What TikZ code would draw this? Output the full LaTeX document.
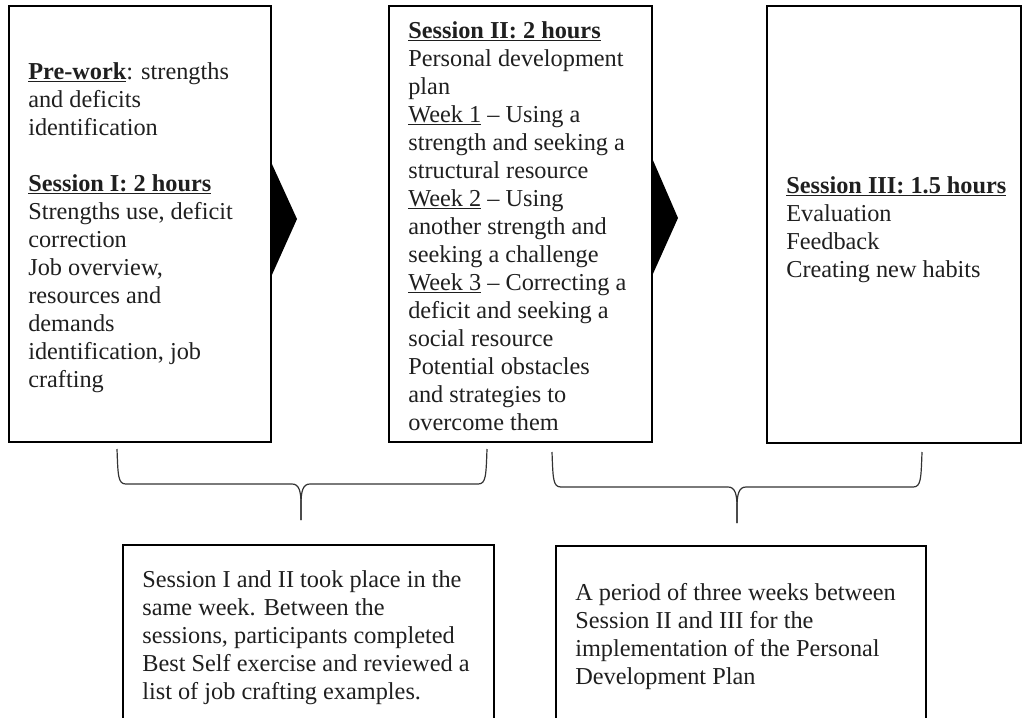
\documentclass[tikz,border=0pt]{standalone}
\usepackage{fontspec}
\setmainfont{Liberation Serif}
\begin{document}
\begin{tikzpicture}[x=1pt,y=-1pt,
  boxst/.style={draw=black,line width=1.8pt,rectangle,inner sep=0pt},
  txt/.style={anchor=west,align=left,inner sep=0pt,font=\fontsize{24.3}{28}\selectfont,text=black!88},
  bracest/.style={draw=black!80,line width=1.2pt},
  tri/.style={fill=black,draw=none}]
\clip (0,0) rectangle (1024,717);
% boxes
\node[boxst,minimum width=262pt,minimum height=436pt] (b1) at (140,224) {};
\node[boxst,minimum width=263pt,minimum height=436pt] (b2) at (520.5,224) {};
\node[boxst,minimum width=254pt,minimum height=437pt] (b3) at (894,224.5) {};
\node[boxst,minimum width=371pt,minimum height=181pt] (b4) at (308.5,635.5) {};
\node[boxst,minimum width=370pt,minimum height=178pt] (b5) at (741,635) {};
% texts
\node[txt] (t1) at ([xshift=20pt,yshift=-4pt]b1.west) {\underline{\textbf{Pre-work}}: strengths\\ and deficits\\ identification\\[28pt] \underline{\textbf{Session I: 2 hours}}\\ Strengths use, deficit\\ correction\\ Job overview,\\ resources and\\ demands\\ identification, job\\ crafting};
\node[txt] (t2) at ([xshift=20pt,yshift=-2pt]b2.west) {\underline{\textbf{Session II: 2 hours}}\\ Personal development\\ plan\\ \underline{Week 1} – Using a\\ strength and seeking a\\ structural resource\\ \underline{Week 2} – Using\\ another strength and\\ seeking a challenge\\ \underline{Week 3} – Correcting a\\ deficit and seeking a\\ social resource\\ Potential obstacles\\ and strategies to\\ overcome them};
\node[txt] (t3) at ([xshift=20pt,yshift=-5pt]b3.west) {\underline{\textbf{Session III: 1.5 hours}}\\ Evaluation\\ Feedback\\ Creating new habits};
\node[txt] (t4) at ([xshift=20pt,yshift=-2pt]b4.west) {Session I and II took place in the\\ same week. Between the\\ sessions, participants completed\\ Best Self exercise and reviewed a\\ list of job crafting examples.};
\node[txt] (t5) at ([xshift=20pt,yshift=-2pt]b5.west) {A period of three weeks between\\ Session II and III for the\\ implementation of the Personal\\ Development Plan};
% arrows
\fill[tri] (271,162) -- (297,219) -- (271,277) -- cycle;
\fill[tri] (652,158) -- (678,218) -- (652,276) -- cycle;
% braces
\coordinate (l1) at (117,449);
\coordinate (r1) at (487,449);
\coordinate (m1) at (301,520);
\coordinate (l2) at (552,452);
\coordinate (r2) at (922,452);
\coordinate (m2) at (737,523);
\draw[bracest] (l1) .. controls (118,476) and (118,484) .. (126,484) -- (292,484)
  .. controls (299,484) and (301,491) .. (301,504) -- (m1);
\draw[bracest] (r1) .. controls (486,476) and (486,484) .. (478,484) -- (310,484)
  .. controls (303,484) and (301,491) .. (301,504) -- (m1);
\draw[bracest] (l2) .. controls (553,479) and (553,487) .. (561,487) -- (728,487)
  .. controls (735,487) and (737,494) .. (737,507) -- (m2);
\draw[bracest] (r2) .. controls (921,479) and (921,487) .. (913,487) -- (746,487)
  .. controls (739,487) and (737,494) .. (737,507) -- (m2);
\end{tikzpicture}
\end{document}
